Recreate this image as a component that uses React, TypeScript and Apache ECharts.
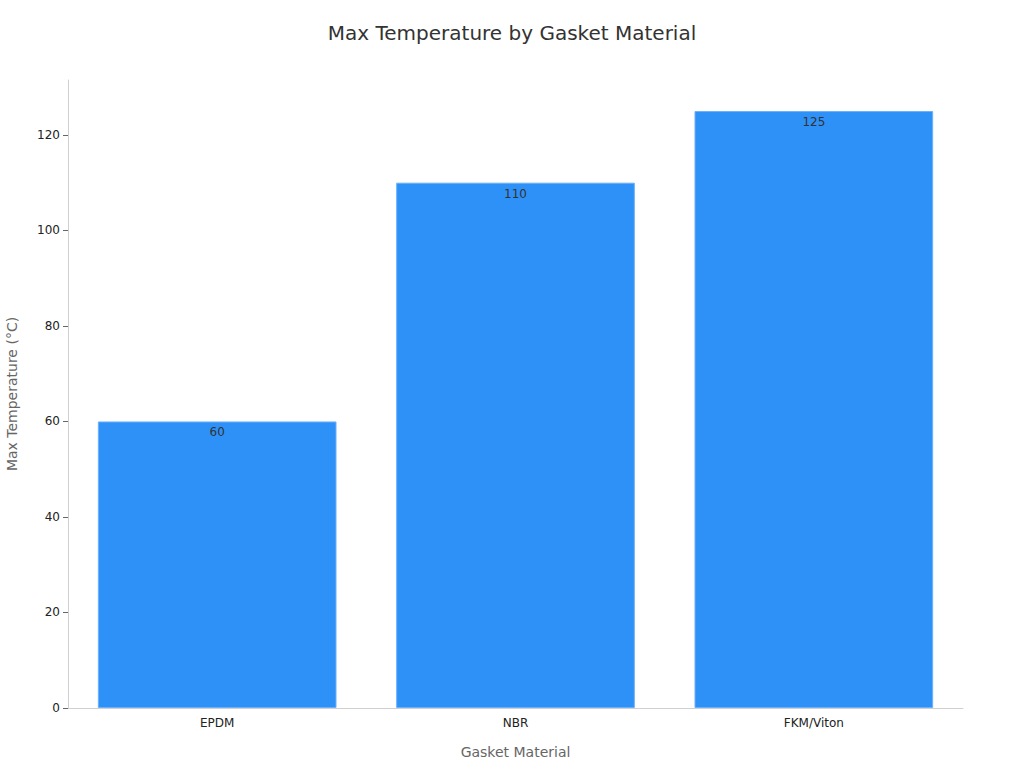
import * as echarts from "echarts"
import { useEffect, useRef } from "react"

// Highest service temperature per gasket elastomer.
const materials = ["EPDM", "NBR", "FKM/Viton"]
const maxTemps = [60, 110, 125]
const tempTicks = [0, 20, 40, 60, 80, 100, 120]

const FONT = "DejaVu Sans, sans-serif"

export default function App() {
  const ref = useRef<HTMLDivElement>(null)

  useEffect(() => {
    document.body.style.margin = "0"
    if (!ref.current) return
    const chart = echarts.init(ref.current, null, { renderer: "svg" })

    chart.setOption({
      animation: false,
      textStyle: { fontFamily: FONT },
      title: {
        text: "Max Temperature by Gasket Material",
        left: "center",
        top: 18,
        textStyle: { fontFamily: FONT, fontSize: 20, fontWeight: "normal", color: "#333" },
      },
      grid: { left: 68, right: 61, top: 80, bottom: 60, outerBoundsMode: "none", containLabel: false },
      xAxis: {
        type: "category",
        data: materials,
        name: "Gasket Material",
        nameLocation: "middle",
        nameGap: 37,
        nameTextStyle: { fontFamily: FONT, fontSize: 14, color: "#666" },
        axisLine: { lineStyle: { color: "#d0d0d0" } },
        axisTick: { alignWithLabel: true, length: 5, lineStyle: { color: "#666" } },
        axisLabel: { fontFamily: FONT, fontSize: 12, color: "#222", margin: 9 },
      },
      yAxis: {
        type: "value",
        min: 0,
        max: 131.5,
        name: "Max Temperature (°C)",
        nameLocation: "middle",
        nameGap: 49,
        nameTextStyle: { fontFamily: FONT, fontSize: 14, color: "#666" },
        axisLine: { show: true, lineStyle: { color: "#d0d0d0" } },
        axisTick: { show: true, length: 5, customValues: tempTicks, lineStyle: { color: "#666" } },
        axisLabel: { fontFamily: FONT, fontSize: 12, color: "#222", margin: 8, customValues: tempTicks },
        splitLine: { show: false },
      },
      series: [
        {
          type: "bar",
          data: maxTemps,
          barCategoryGap: "20%",
          itemStyle: { color: "#2e91f8", borderColor: "#6db0fa", borderWidth: 1 },
          label: {
            show: true,
            position: "insideTop",
            distance: 5,
            fontFamily: FONT,
            fontSize: 12,
            color: "#333",
          },
        },
      ],
    })

    return () => chart.dispose()
  }, [])

  return <div ref={ref} style={{ width: 1024, height: 768 }} />
}
